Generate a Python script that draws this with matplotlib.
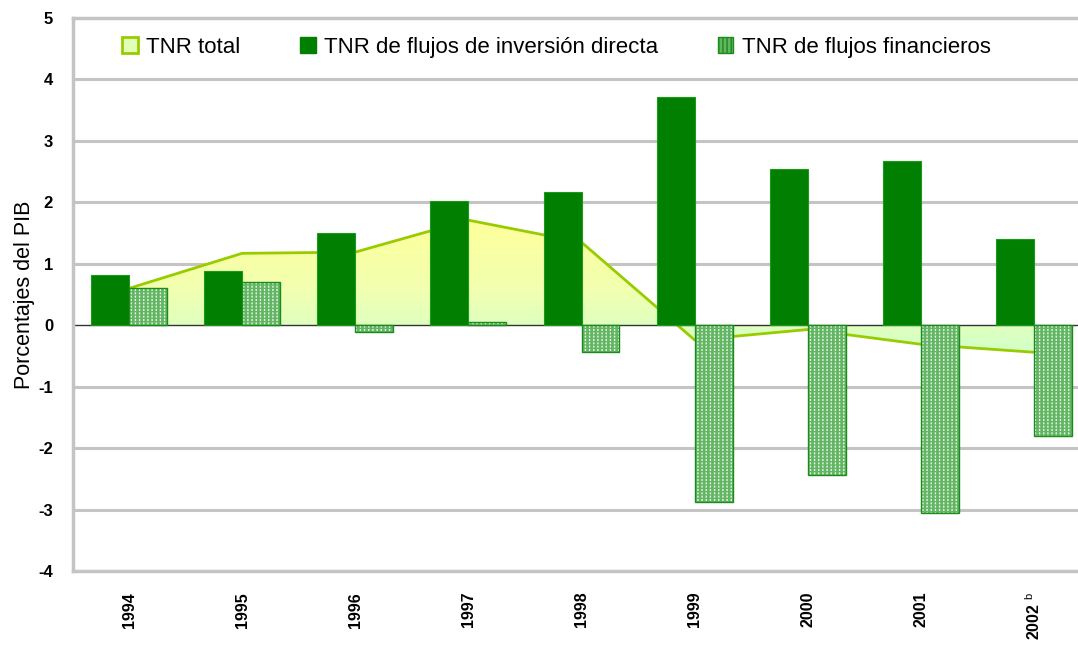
import matplotlib.pyplot as plt
import matplotlib.patches as mpatches
from matplotlib.colors import LinearSegmentedColormap
import numpy as np

plt.rcParams['font.family'] = ['Liberation Sans', 'DejaVu Sans']
plt.rcParams['mathtext.fontset'] = 'custom'
plt.rcParams['mathtext.rm'] = 'Liberation Sans'
plt.rcParams['hatch.linewidth'] = 1.0

years = ['1994', '1995', '1996', '1997', '1998', '1999', '2000', '2001', '2002 $^{\\mathrm{b}}$']
tnr_total = [0.60, 1.17, 1.19, 1.71, 1.35, -0.24, -0.07, -0.31, -0.44]
tnr_directa = [0.81, 0.88, 1.50, 2.02, 2.17, 3.71, 2.54, 2.67, 1.40]
tnr_financieros = [0.60, 0.70, -0.11, 0.06, -0.44, -2.88, -2.44, -3.05, -1.81]

fig = plt.figure(figsize=(10.78, 6.48), dpi=100)
ax = fig.add_axes([72.5 / 1078, 77 / 648, 1018 / 1078, 553 / 648])

x = np.arange(len(years))
w = 0.335

# lineas de la grilla
for v in range(-4, 6):
    if v != 0:
        ax.axhline(v, color='#c4c4c4', lw=2.2, zorder=0)

# area del total con degradado vertical
poly = ax.fill_between(x, tnr_total, 0, facecolor='none', edgecolor='none', zorder=1)
grad = np.linspace(0, 1, 256).reshape(-1, 1)
cmap = LinearSegmentedColormap.from_list('g', ['#ccffcc', '#f2ffb0', '#ffff99'])
img = ax.imshow(grad, extent=[-0.5, 8.5, -0.6, 1.8], origin='lower', cmap=cmap,
                aspect='auto', zorder=1)
img.set_clip_path(poly.get_paths()[0], transform=ax.transData)
ax.plot(x, tnr_total, color='#99cc00', lw=2, zorder=2)

ax.axhline(0, color='#333333', lw=1, zorder=2.5)

# barras
ax.bar(x - w / 2, tnr_directa, w, color='#007f00', edgecolor='#1a9a1a', lw=0.8, zorder=3)
ax.bar(x + w / 2, tnr_financieros, w, color='#62b562', edgecolor='#eaf7ea', hatch='||||', lw=0, zorder=3)
ax.bar(x + w / 2, tnr_financieros, w, color='none', edgecolor='#62b562', hatch='-----', lw=0, zorder=3.2)
ax.bar(x + w / 2, tnr_financieros, w, color='none', edgecolor='#1a8c1a', lw=1.0, zorder=3.5)

ax.set_xlim(-0.5, 8.5)
ax.set_ylim(-4, 5)
ax.set_yticks(range(-4, 6))
ax.set_yticklabels([str(v) for v in range(-4, 6)], fontsize=12, fontweight='bold')
ax.set_xticks(x)
ax.set_xticklabels(years, rotation=90, fontsize=11.5, fontweight='bold', va='top')
ax.tick_params(axis='both', length=0)
ax.tick_params(axis='y', pad=14)
ax.tick_params(axis='x', pad=15)

for s in ['top', 'left', 'bottom']:
    ax.spines[s].set_color('#c4c4c4')
    ax.spines[s].set_linewidth(2.5)
ax.spines['right'].set_visible(False)

ax.set_ylabel('Porcentajes del PIB', fontsize=15.5)
ax.yaxis.set_label_coords(-0.037, 0.5)

h1 = mpatches.Patch(facecolor='#e2ffb8', edgecolor='#99cc00', lw=2)
h2 = mpatches.Patch(facecolor='#007f00', edgecolor='#007f00')
h3 = mpatches.Patch(facecolor='#62b562', edgecolor='#1a8c1a', hatch='||||')
ax.legend([h1, h2, h3], ['TNR total', 'TNR de flujos de inversión directa', 'TNR de flujos financieros'],
          loc='upper left', bbox_to_anchor=(0.0486, 0.966), ncol=3, frameon=False,
          borderpad=0, borderaxespad=0,
          fontsize=16, handlelength=0.7, handleheight=0.7, handletextpad=0.37,
          columnspacing=2.7)

fig.savefig('out.png', dpi=100)
